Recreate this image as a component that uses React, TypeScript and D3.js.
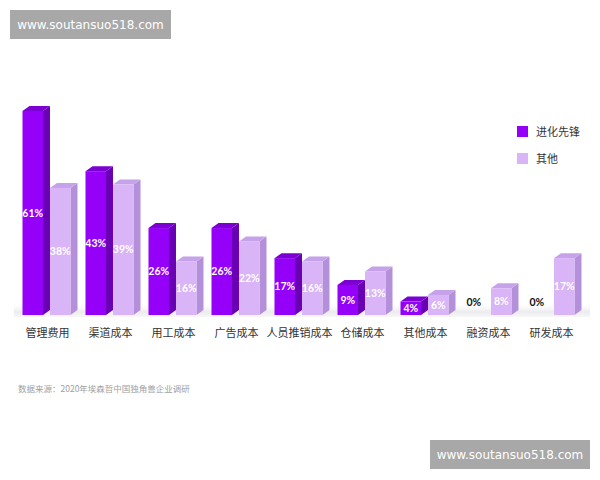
import React from "react";
import * as d3 from "d3";

const categories = ["管理费用", "渠道成本", "用工成本", "广告成本", "人员推销成本", "仓储成本", "其他成本", "融资成本", "研发成本"];
const seriesNames = ["进化先锋", "其他"];
const pioneer = [61, 43, 26, 26, 17, 9, 4, 0, 0];
const others = [38, 39, 16, 22, 16, 13, 6, 8, 17];
const sourceText = "数据来源：2020年埃森哲中国独角兽企业调研";
const watermark = "www.soutansuo518.com";

const W = 600;
const H = 480;
const baseY = 315;
const DX = 7;
const DY = -5;

const palette = [
  { front: "#9400f8", side: "#6a00b4", top: "#7d00d2" },
  { front: "#d9b4f7", side: "#b390d9", top: "#c6a2ea" },
];

export default function App() {
  const x = d3.scaleBand<string>().domain(categories).range([22.5, 22.5 + 9 * 63]).padding(0);
  const xi = d3.scaleBand<string>().domain(seriesNames).range([0, 48]).paddingInner(0.255).paddingOuter(0);
  const y = d3.scaleLinear().domain([0, 61]).range([baseY, 111]);
  const data = [pioneer, others];
  const bw = xi.bandwidth();

  return (
    <svg width={W} height={H} style={{ display: "block", position: "absolute", left: 0, top: 0 }}>
      <defs>
        <linearGradient id="floor" x1="0" y1="0" x2="0" y2="1">
          <stop offset="0" stopColor="#ffffff" stopOpacity="0" />
          <stop offset="0.65" stopColor="#ececef" stopOpacity="1" />
          <stop offset="1" stopColor="#f7f7f8" stopOpacity="1" />
        </linearGradient>
      </defs>
      <rect x={0} y={0} width={W} height={H} fill="#fff" />
      {/* watermarks */}
      <rect x={10} y={10} width={161} height={29} fill="#a8a8a8" />
      <text x={90.5} y={29} textAnchor="middle" fill="#fff" fontSize={12} fontFamily="DejaVu Sans, sans-serif">{watermark}</text>
      <rect x={430} y={440} width={160} height={29} fill="#a8a8a8" />
      <text x={510} y={459} textAnchor="middle" fill="#fff" fontSize={12} fontFamily="DejaVu Sans, sans-serif">{watermark}</text>

      {/* floor shadow */}
      <rect x={14} y={302} width={576} height={15} fill="url(#floor)" />

      {categories.map((c, ci) => (
        <g key={c}>
          {seriesNames.map((s, si) => {
            const v = data[si][ci];
            const x0 = (x(c) as number) + (xi(s) as number);
            const yt = y(v);
            const col = palette[si];
            if (v === 0) {
              return (
                <text key={s} x={x0 + bw / 2} y={306} textAnchor="middle" fontSize={10.5} fontWeight={700}
                  fontFamily="Lato, 'Noto Sans', sans-serif" fill="#111">{v}%</text>
              );
            }
            return (
              <g key={s}>
                <polygon points={`${x0 + bw},${yt} ${x0 + bw + DX},${yt + DY} ${x0 + bw + DX},${baseY + DY} ${x0 + bw},${baseY}`} fill={col.side} />
                <polygon points={`${x0},${yt} ${x0 + DX},${yt + DY} ${x0 + bw + DX},${yt + DY} ${x0 + bw},${yt}`} fill={col.top} />
                <rect x={x0} y={yt} width={bw} height={baseY - yt} fill={col.front} />
                <text x={x0 + bw / 2} y={(yt + baseY) / 2 + 3.7} textAnchor="middle" fontSize={10.5} fontWeight={700}
                  fontFamily="Lato, 'Noto Sans', sans-serif" fill="#fff">{v}%</text>
              </g>
            );
          })}
          <text x={(x(c) as number) + 25} y={337} textAnchor="middle" fontSize={11}
            fontFamily="'Noto Sans CJK SC', sans-serif" fill="#333">{c}</text>
        </g>
      ))}

      {/* legend */}
      {seriesNames.map((s, i) => (
        <g key={s} transform={`translate(517, ${126 + i * 27})`}>
          <rect x={0} y={0} width={11} height={11} fill={palette[i].front} />
          <text x={19} y={9.5} fontSize={11} fontFamily="'Noto Sans CJK SC', sans-serif" fill="#333">{s}</text>
        </g>
      ))}

      <text x={18} y={392} fontSize={8.5} fontFamily="'Noto Sans CJK SC', sans-serif" fill="#a0a0a0">{sourceText}</text>
    </svg>
  );
}
